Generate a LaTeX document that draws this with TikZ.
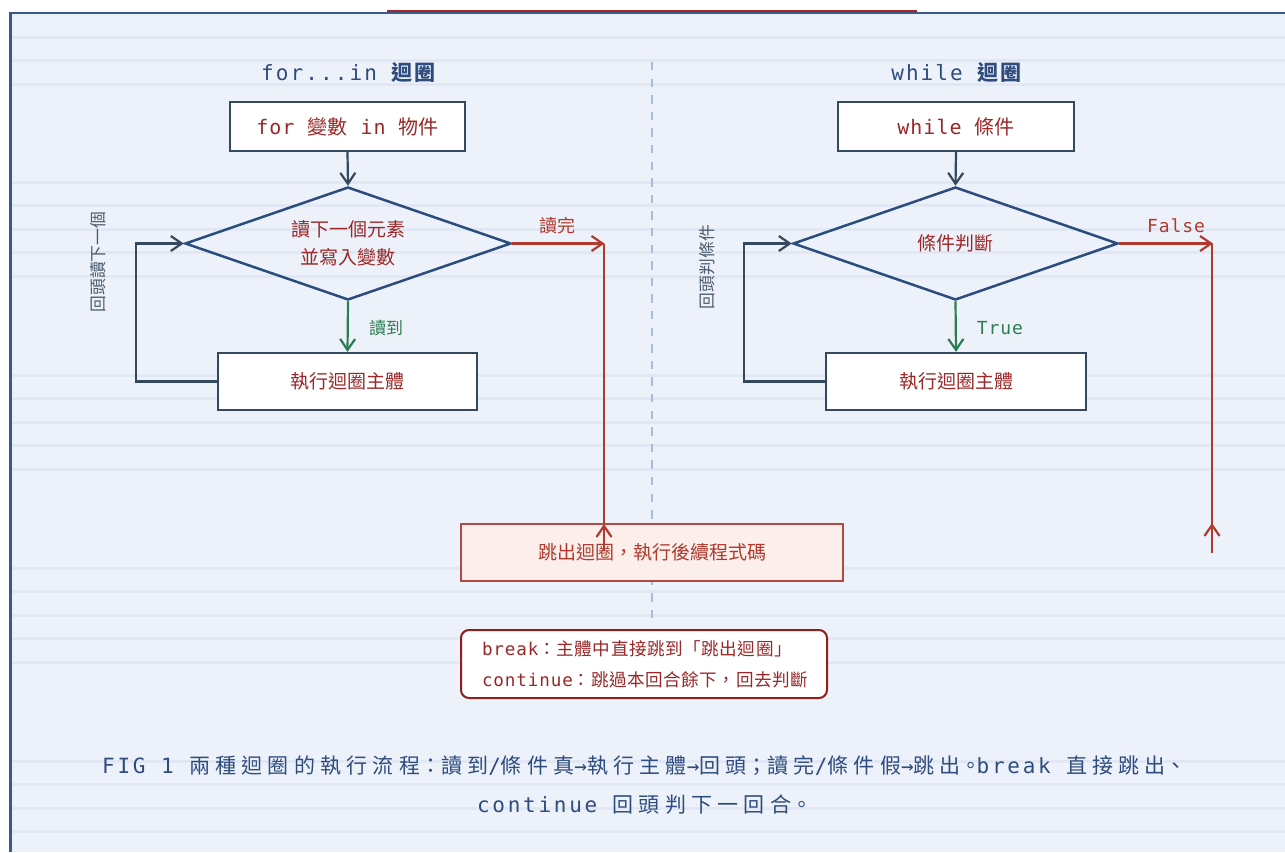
\documentclass[tikz,border=0pt]{standalone}
\usepackage{fontspec}
\setmainfont{Noto Sans CJK TC}
\newfontfamily\CJKf{Noto Sans CJK TC}
\newfontfamily\MonoF[LetterSpace=5]{DejaVu Sans Mono}
\newfontfamily\TitC[LetterSpace=10]{Noto Sans CJK TC}
\newfontfamily\TitM[LetterSpace=10]{DejaVu Sans Mono}
\newfontfamily\CapC[LetterSpace=25,RawFeature=+halt]{Noto Sans CJK TC}
\newfontfamily\CapM[LetterSpace=13]{DejaVu Sans Mono}
\newfontfamily\NoteC[LetterSpace=3]{Noto Sans CJK TC}
\usetikzlibrary{shapes.geometric,arrows.meta}
\definecolor{bgc}{RGB}{237,242,250}
\definecolor{rulec}{RGB}{225,231,243}
\definecolor{framec}{RGB}{58,90,140}
\definecolor{redtop}{RGB}{163,38,42}
\definecolor{boxc}{RGB}{52,73,94}
\definecolor{diac}{RGB}{43,76,126}
\definecolor{txtred}{RGB}{155,40,40}
\definecolor{greenc}{RGB}{46,125,82}
\definecolor{exred}{RGB}{176,58,46}
\definecolor{exfill}{RGB}{251,238,235}
\definecolor{exborder}{RGB}{178,74,72}
\definecolor{notec}{RGB}{142,31,31}
\definecolor{titlec}{RGB}{47,76,126}
\definecolor{labgray}{RGB}{75,91,108}
\definecolor{divc}{RGB}{169,187,213}
\begin{document}
\begin{tikzpicture}[x=1pt,y=-1pt,
  tip/.tip={Straight Barb[length=11pt,width=15pt]},
  titletext/.style={text=titlec,inner sep=0},
  stepbox/.style={draw=boxc,line width=2.2pt,fill=white,inner sep=0,text=txtred},
  decision/.style={shape=diamond,draw=diac,line width=2.5pt,inner sep=0,text=txtred,align=center},
  flow/.style={draw=boxc,line width=2.2pt,-tip},
  yesflow/.style={draw=greenc,line width=2.2pt,-tip},
  backflow/.style={draw=boxc,line width=2.2pt,-tip},
  exitflow/.style={draw=exred,line width=2.2pt},
  sidelabel/.style={text=labgray,inner sep=0,rotate=90,font=\CJKf\fontsize{16.8}{20}\selectfont},
  edgelabel/.style={inner sep=0},
]
\useasboundingbox (0,0) rectangle (1285,852);
\fill[white] (0,0) rectangle (1285,852);
\fill[bgc] (10,13) rectangle (1285,852);
\foreach \yy in {37,60.5,84,182,205.5,229,252.5,276,375,398.5,422,445.5,469,568,591.5,615,638.5,662,761,784.5,808,831.5}
  \draw[rulec,line width=3pt] (11,\yy) -- (1285,\yy);
\draw[framec,line width=2.3pt] (10.6,852) -- (10.6,12.8) -- (1285,12.8);
\draw[redtop,line width=2pt] (387,10.6) -- (917,10.6);
\draw[divc,line width=1.8pt,dash pattern=on 8.3pt off 8.3pt] (652,62) -- (652,620);

% titles
\node[titletext] (t1) at (348.5,73) {\fontsize{21}{24}\selectfont\TitM for...in\ \TitC\bfseries 迴圈};
\node[titletext] (t2) at (956.5,73) {\fontsize{21}{24}\selectfont\TitM while\ \TitC\bfseries 迴圈};

% left: for loop
\node[stepbox,minimum width=235pt,minimum height=49pt] (fb) at (347.5,126.5)
  {\fontsize{20}{24}\selectfont{\MonoF for\ }{\CJKf 變數}{\MonoF\ in\ }{\CJKf 物件}};
\node[decision,minimum width=326pt,minimum height=113pt,aspect=2.885,font=\fontsize{19}{28}\selectfont] (d1) at (348,243.5)
  {讀下一個元素\\並寫入變數};
\node[stepbox,minimum width=259pt,minimum height=57pt] (b1) at (347.5,381.5)
  {\fontsize{19}{24}\selectfont 執行迴圈主體};
\draw[flow] (fb.south) -- (d1.north);
\draw[yesflow] (d1.south) -- (b1.north);
\node[edgelabel,text=greenc] (l1) at (386,328) {\fontsize{17}{20}\selectfont 讀到};
\draw[backflow] (b1.west) -- ++(-81,0) |- (d1.west);
\node[sidelabel] (s1) at (98.5,262) {回頭讀下一個};
\coordinate (xa) at (604.5,243.5);
\coordinate (xab) at (604,551);
\coordinate (xat) at (604,524);
\draw[exitflow,-tip] (d1.east) -- (xa);
\draw[exitflow] (604,243.5) -- (xab);
\node[edgelabel,text=exred] (l2) at (557,226) {\fontsize{18}{20}\selectfont 讀完};

% right: while loop
\node[stepbox,minimum width=236pt,minimum height=49pt] (wb) at (956,126.5)
  {\fontsize{20}{24}\selectfont{\MonoF while\ }{\CJKf 條件}};
\node[decision,minimum width=325pt,minimum height=113pt,aspect=2.876,font=\fontsize{19}{24}\selectfont] (d2) at (955.5,243.5)
  {條件判斷};
\node[stepbox,minimum width=260pt,minimum height=57pt] (b2) at (956,381.5)
  {\fontsize{19}{24}\selectfont 執行迴圈主體};
\draw[flow] (wb.south) -- (d2.north);
\draw[yesflow] (d2.south) -- (b2.north);
\node[edgelabel,text=greenc] (l3) at (1000,328) {\fontsize{18}{20}\selectfont\MonoF True};
\draw[backflow] (b2.west) -- ++(-81,0) |- (d2.west);
\node[sidelabel] (s2) at (707,267) {回頭判條件};
\coordinate (ya) at (1213,243.5);
\coordinate (yab) at (1212,553);
\coordinate (yat) at (1212,523);
\draw[exitflow,-tip] (d2.east) -- (ya);
\draw[exitflow] (1212,243.5) -- (yab);
\node[edgelabel,text=exred] (l4) at (1176,226) {\fontsize{18}{20}\selectfont\MonoF False};

% exit box
\node[draw=exborder,fill=exfill,line width=2.2pt,inner sep=0,minimum width=382pt,minimum height=57pt,text=exred] (ex) at (652,552.5)
  {\fontsize{19}{24}\selectfont 跳出迴圈，執行後續程式碼};
\draw[exitflow,-tip] (xab) -- (xat);
\draw[exitflow,-tip] (yab) -- (yat);

% note box
\node[draw=notec,fill=white,line width=2pt,rounded corners=8pt,inner xsep=21pt,inner ysep=0,
  minimum height=68pt,text width=324pt,align=left,text=txtred,font=\fontsize{17.6}{31}\selectfont] (nb) at (644,664)
  {\raisebox{0pt}[0pt][0pt]{}{\MonoF break}{\NoteC ：主體中直接跳到「跳出迴圈」}\\{\MonoF continue}{\NoteC ：跳過本回合餘下，回去判斷}};

% caption
\node[inner sep=0,text=titlec,align=center,font=\fontsize{21}{39}\selectfont] (cap) at (642,784.5)
  {{\CapM FIG\ 1\ }{\CapC 兩種迴圈的執行流程：讀到}{\CapM /}{\CapC 條件真}{\CapM →}{\CapC 執行主體}{\CapM →}{\CapC 回頭；讀完}{\CapM /}{\CapC 條件假}{\CapM →}{\CapC 跳出。}{\CapM break\ }{\CapC 直接跳出、}\\
   {\CapM continue\ }{\CapC 回頭判下一回合。}};
\end{tikzpicture}
\end{document}
